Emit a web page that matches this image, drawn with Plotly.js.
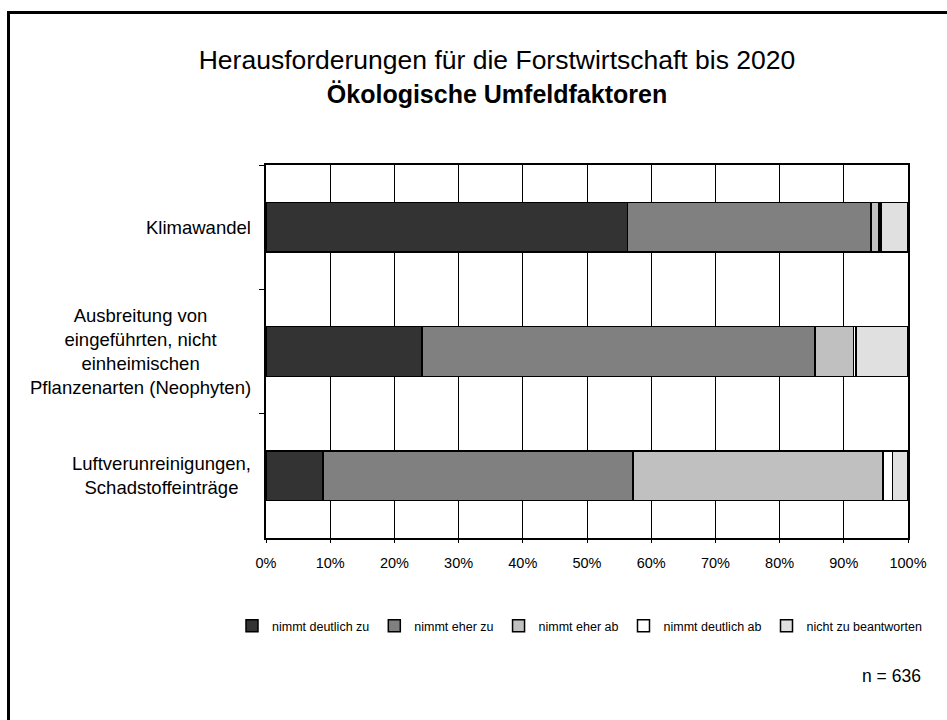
<!DOCTYPE html>
<html>
<head>
<meta charset="utf-8">
<script src="https://cdn.plot.ly/plotly-3.0.1.min.js"></script>
<style>
  html, body { margin: 0; padding: 0; background: #ffffff; }
  #chart { width: 947px; height: 720px; }
</style>
</head>
<body>
<div id="chart"></div>
<script>
// ---- data ----
const categories = [
  'Klimawandel',
  'Ausbreitung von<br>eingeführten, nicht<br>einheimischen<br>Pflanzenarten (Neophyten)',
  'Luftverunreinigungen,<br>Schadstoffeinträge'
];
const seriesNames = ['nimmt deutlich zu', 'nimmt eher zu', 'nimmt eher ab', 'nimmt deutlich ab', 'nicht zu beantworten'];
const deutlichZu   = [56.3, 24.3, 8.9];
const eherZu       = [37.9, 61.2, 48.3];
const eherAb       = [1.3, 6.0, 38.9];
const deutlichAb   = [0.3, 0.4, 1.5];
const nichtZu      = [4.2, 8.1, 2.4];
const xTickValues  = [0, 10, 20, 30, 40, 50, 60, 70, 80, 90, 100];
const xTickLabels  = ['0%', '10%', '20%', '30%', '40%', '50%', '60%', '70%', '80%', '90%', '100%'];
const titleLine1 = 'Herausforderungen für die Forstwirtschaft bis 2020';
const titleLine2 = 'Ökologische Umfeldfaktoren';
const sampleNote = 'n = 636';

// ---- styles ----
const colors = ['#333333', '#808080', '#c0c0c0', '#ffffff', '#e0e0e0'];
const FONT = 'Liberation Sans, Arial, sans-serif';
const valueSets = [deutlichZu, eherZu, eherAb, deutlichAb, nichtZu];

const traces = valueSets.map((vals, i) => ({
  type: 'bar',
  orientation: 'h',
  name: seriesNames[i],
  x: vals,
  y: categories,
  marker: { color: colors[i], line: { color: '#000000', width: 1.5 } },
  hoverinfo: 'x+name'
}));

// plot area in pixels: x 266..908, y 165..538
const W = 947, H = 720;
const L = 266, R = 908, T = 165, B = 538;
const px2x = p => (p - L) / (R - L);
const px2y = p => (B - p) / (B - T);

const annotations = categories.map(c => ({
  xref: 'paper', yref: 'y',
  x: px2x(253), y: c,
  xanchor: 'right', yanchor: 'middle',
  align: 'center',
  text: c,
  showarrow: false,
  font: { family: FONT, size: 18.5, color: '#000000' }
}));
annotations.push({
  xref: 'paper', yref: 'paper',
  x: px2x(923), y: px2y(676),
  xanchor: 'right', yanchor: 'middle',
  text: sampleNote, showarrow: false,
  font: { family: FONT, size: 17.5, color: '#000000' }
});

const layout = {
  width: W, height: H,
  paper_bgcolor: '#ffffff', plot_bgcolor: '#ffffff',
  margin: { l: L, r: W - R, t: T, b: H - B, pad: 0 },
  font: { family: FONT, color: '#000000' },
  title: {
    text: titleLine1 + '<br><b><span style="font-size:25px">' + titleLine2 + '</span></b>',
    font: { family: FONT, size: 26.5, color: '#000000' },
    x: 497 / W, xanchor: 'center', xref: 'container',
    y: 1 - 69 / H, yanchor: 'top', yref: 'container'
  },
  barmode: 'stack',
  bargap: 0.6,
  showlegend: true,
  legend: {
    orientation: 'h',
    xref: 'paper', yref: 'paper',
    x: px2x(232), xanchor: 'left',
    y: px2y(626), yanchor: 'middle',
    font: { family: FONT, size: 12.5, color: '#000000' },
    traceorder: 'normal',
    bgcolor: 'rgba(0,0,0,0)'
  },
  xaxis: {
    range: [0, 100],
    tickmode: 'array',
    tickvals: xTickValues,
    ticktext: xTickLabels,
    showgrid: true, gridcolor: '#000000', gridwidth: 1,
    showline: true, linecolor: '#000000', linewidth: 2, mirror: true,
    ticks: 'outside', ticklen: 3, tickcolor: '#000000',
    ticklabelstandoff: 8,
    tickfont: { family: FONT, size: 14.5, color: '#000000' },
    zeroline: false, fixedrange: true
  },
  yaxis: {
    autorange: 'reversed',
    showticklabels: false,
    tickson: 'boundaries',
    ticks: 'outside', ticklen: 5, tickcolor: '#000000',
    showgrid: false,
    showline: true, linecolor: '#000000', linewidth: 2, mirror: true,
    fixedrange: true
  },
  annotations: annotations,
  shapes: [
    { type: 'line', xref: 'paper', yref: 'paper',
      x0: px2x(8.5), x1: px2x(8.5), y0: px2y(730), y1: px2y(12.5),
      line: { color: '#000000', width: 3 } },
    { type: 'line', xref: 'paper', yref: 'paper',
      x0: px2x(7), x1: px2x(960), y0: px2y(12.5), y1: px2y(12.5),
      line: { color: '#000000', width: 3 } }
  ]
};

Plotly.newPlot('chart', traces, layout, { displayModeBar: false, staticPlot: true });
</script>
</body>
</html>
